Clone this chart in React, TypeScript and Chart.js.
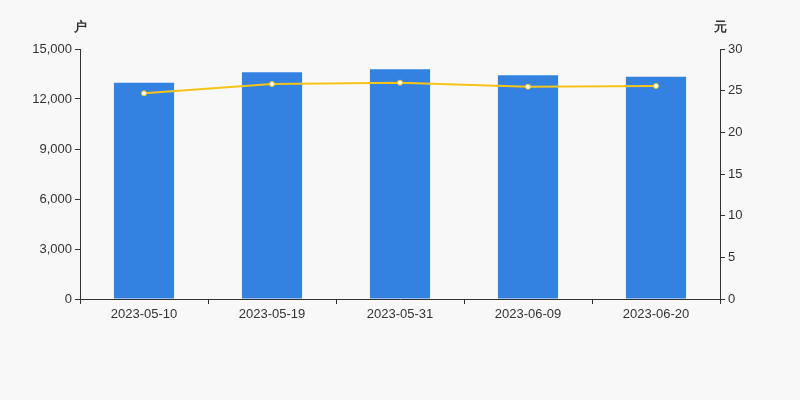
import React, { useEffect, useRef } from "react";
import { Chart, registerables } from "chart.js";

Chart.register(...registerables);

const categories = ["2023-05-10", "2023-05-19", "2023-05-31", "2023-06-09", "2023-06-20"];
const holders = [12980, 13600, 13780, 13420, 13340];
const avgValue = [24.68, 25.8, 25.96, 25.48, 25.56];
const leftUnit = "户";
const rightUnit = "元";

const FONT = "'Liberation Sans', Arial, sans-serif";

export default function App() {
  const ref = useRef<HTMLCanvasElement>(null);
  useEffect(() => {
    document.body.style.margin = "0";
    const bgPlugin = {
      id: "bg",
      beforeDraw(chart: any) {
        const ctx = chart.ctx;
        ctx.save();
        ctx.fillStyle = "#f8f8f8";
        ctx.fillRect(0, 0, chart.width, chart.height);
        ctx.restore();
      },
      afterDraw(chart: any) {
        const ctx = chart.ctx;
        const a = chart.chartArea;
        ctx.save();
        ctx.fillStyle = "#333";
        ctx.font = "bold 13px " + FONT;
        ctx.textAlign = "center";
        ctx.textBaseline = "middle";
        ctx.fillText(leftUnit, a.left, 27);
        ctx.fillText(rightUnit, a.right, 27);
        ctx.restore();
      },
    };
    const chart = new Chart(ref.current!, {
      type: "bar",
      data: {
        labels: categories,
        datasets: [
          {
            type: "line",
            data: avgValue,
            yAxisID: "y1",
            borderColor: "#f5c419",
            borderWidth: 2,
            pointBackgroundColor: "#ffffff",
            pointBorderColor: "#f5c419",
            pointBorderWidth: 1,
            pointRadius: 2.5,
            tension: 0,
            order: 0,
          } as any,
          {
            type: "bar",
            data: holders,
            yAxisID: "y",
            backgroundColor: "#3382e2",
            categoryPercentage: 1,
            barPercentage: 0.47,
            order: 1,
          },
        ],
      },
      plugins: [bgPlugin],
      options: {
        responsive: false,
        animation: false,
        layout: { padding: { top: 49, left: 0, right: 0, bottom: 0 } },
        plugins: { legend: { display: false }, tooltip: { enabled: false } },
        scales: {
          x: {
            offset: true,
            grid: {
              offset: true,
              drawOnChartArea: false,
              drawTicks: true,
              tickLength: 5,
              color: "#333",
            },
            border: { color: "#333", width: 1 },
            ticks: { color: "#333", font: { size: 13, family: FONT }, padding: 3, maxRotation: 0 },
            afterFit(scale: any) {
              scale.height = 101;
            },
          },
          y: {
            position: "left",
            min: 0,
            max: 15000,
            grid: { drawOnChartArea: false, drawTicks: true, tickLength: 5, color: "#333" },
            border: { color: "#333", width: 1 },
            ticks: {
              stepSize: 3000,
              color: "#333",
              font: { size: 13, family: FONT },
              padding: 3,
              callback: (v: any) => Number(v).toLocaleString("en-US"),
            },
            afterFit(scale: any) {
              scale.width = 80;
            },
          },
          y1: {
            position: "right",
            min: 0,
            max: 30,
            grid: { drawOnChartArea: false, drawTicks: true, tickLength: 5, color: "#333" },
            border: { color: "#333", width: 1 },
            ticks: { stepSize: 5, color: "#333", font: { size: 13, family: FONT }, padding: 3 },
            afterFit(scale: any) {
              scale.width = 80;
            },
          },
        },
      },
    });
    return () => chart.destroy();
  }, []);
  return <canvas ref={ref} width={800} height={400} style={{ display: "block" }} />;
}
